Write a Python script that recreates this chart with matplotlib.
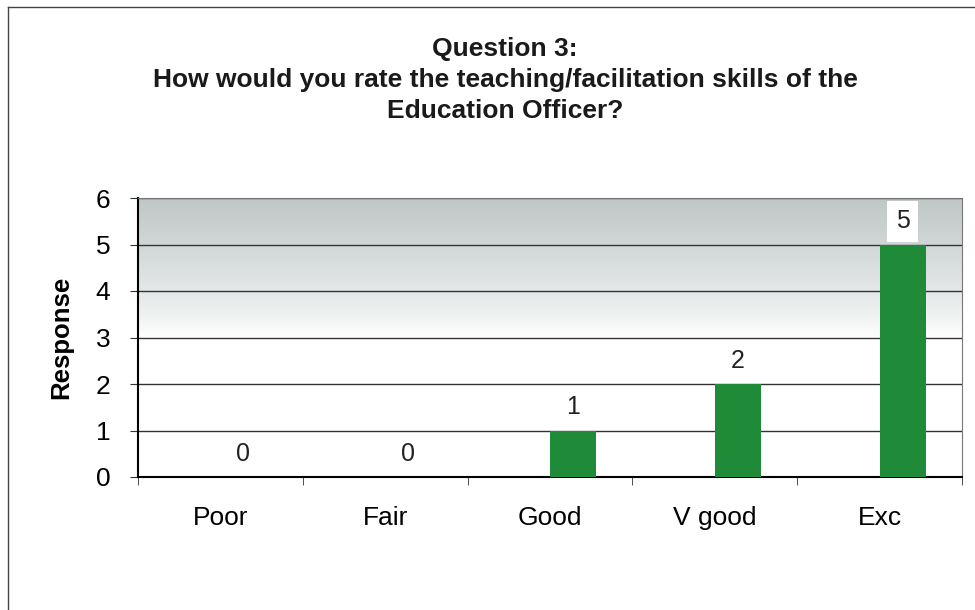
import matplotlib.pyplot as plt
import numpy as np
from matplotlib.lines import Line2D

categories = ["Poor", "Fair", "Good", "V good", "Exc"]
responses = [0, 0, 1, 2, 5]
title = "Question 3:\nHow would you rate the teaching/facilitation skills of the\nEducation Officer?"

plt.rcParams["font.family"] = ["Liberation Sans", "DejaVu Sans"]

fig = plt.figure(figsize=(9.75, 6.1), dpi=100)
ax = fig.add_axes([138 / 975, 1 - 477 / 610, (962 - 138) / 975, (477 - 198) / 610])

# grey-to-white gradient behind the bars (top half of the plot area)
grad = np.linspace(0, 1, 256).reshape(-1, 1)
top = np.array([0.75, 0.78, 0.78])
shade = np.clip((grad - 0.5) / 0.5, 0, 1) ** 0.8
img = 1 - shade[:, :, None] * (1 - top[None, None, :])
ax.imshow(img, extent=[-0.5, 4.5, 0, 6], origin="lower", aspect="auto", zorder=0)

x = np.arange(len(categories))
ax.bar(x + 0.14, responses, width=0.28, color="#1f8a38", zorder=3)
for xi, v in zip(x, responses):
    ax.text(xi + 0.14, v + 0.5, str(v), ha="center", va="center", fontsize=18,
            color="#222222", zorder=4,
            bbox=dict(facecolor="white", edgecolor="none", pad=6))

ax.set_xlim(-0.5, 4.5)
ax.set_ylim(0, 6)
ax.set_yticks(range(7))
ax.set_xticks(x)
ax.set_xticklabels(categories, fontsize=19)
ax.set_xticks(np.arange(-0.5, 5, 1), minor=True)
ax.tick_params(axis="x", which="major", length=0, pad=21)
ax.tick_params(axis="x", which="minor", length=6, direction="out", color="#333333")
ax.tick_params(axis="y", labelsize=19, length=6, color="#333333", pad=14)
for yv in range(1, 7):
    ax.axhline(yv, color="#333333", lw=1, zorder=1)

ax.spines["left"].set_linewidth(1.5)
ax.spines["bottom"].set_linewidth(1.5)
ax.spines["top"].set_color("#777777")
ax.spines["right"].set_color("#777777")

ax.set_ylabel("Response", fontsize=18.5, fontweight="bold", labelpad=16)
fig.text(0.518, 1 - 37 / 610, title, ha="center", va="top", fontsize=19,
         fontweight="bold", linespacing=1.37, color="#1a1a1a")

# outer chart frame
fig.add_artist(Line2D([8 / 975, 8 / 975], [0, 1 - 7 / 610], transform=fig.transFigure,
                      color="#444444", lw=1))
fig.add_artist(Line2D([8 / 975, 1], [1 - 7 / 610, 1 - 7 / 610], transform=fig.transFigure,
                      color="#444444", lw=1))

fig.savefig("out.png", dpi=100)
